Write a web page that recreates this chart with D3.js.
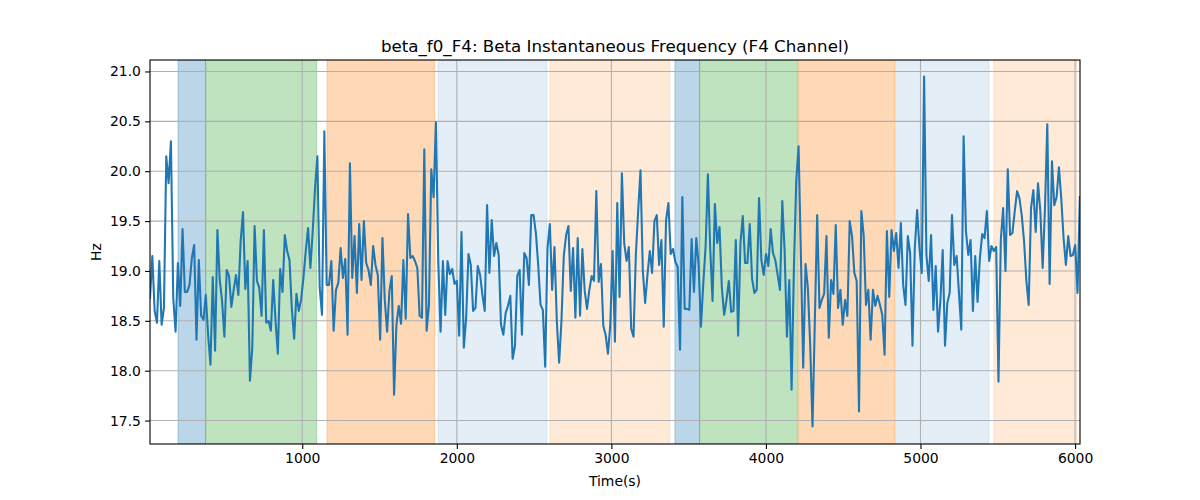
<!DOCTYPE html>
<html>
<head>
<meta charset="utf-8">
<script src="https://cdn.jsdelivr.net/npm/d3@7"></script>
<style>
  body { margin: 0; background: #fff; }
  #graph text { font-family: "DejaVu Sans", sans-serif; }
</style>
</head>
<body>
<div id="graph"></div>
<script>
(function(){
	"use strict";

	// samples: first time stamp and sampling period (s)
	var sampleStart = 15;
	var samplePeriod = 15.04;

	// beta instantaneous frequency (Hz), one value per sample
	var values = [
		18.73,19.15,18.60,18.48,19.10,18.46,18.63,20.15,19.88,20.30,
		18.73,18.39,19.08,18.65,19.42,18.79,18.79,18.86,19.13,19.26,
		18.31,19.11,18.55,18.51,18.76,18.36,18.06,18.94,18.20,19.41,
		18.91,18.70,18.34,19.01,18.95,18.64,18.81,18.96,18.76,19.30,
		19.59,18.82,19.10,17.90,18.23,19.45,18.90,18.83,18.55,19.41,
		18.48,18.50,18.40,18.91,18.50,18.17,19.02,18.79,19.36,19.20,
		19.11,18.63,18.32,18.77,18.60,18.71,18.93,
		19.20,19.43,19.03,19.40,19.83,20.15,18.83,18.56,20.40,18.86,
		18.86,19.10,18.40,18.81,18.88,19.23,18.93,19.12,18.36,20.08,
		18.93,19.35,18.78,19.47,18.91,19.50,19.08,19.01,18.86,19.25,
		19.06,18.96,18.31,19.33,18.71,18.39,18.80,18.95,17.76,18.46,
		18.65,18.47,19.11,18.52,19.57,19.13,19.15,19.10,19.03,18.55,
		18.53,20.22,18.40,18.66,20.02,19.74,20.49,19.10,18.39,19.10,
		18.56,19.10,18.97,19.02,18.87,18.90,
		18.35,19.39,18.23,18.53,19.17,19.06,18.60,18.63,19.05,18.96,
		18.76,18.60,19.66,18.98,19.51,19.15,19.28,19.16,18.46,18.36,
		18.58,18.65,18.75,18.12,18.25,18.95,19.01,18.36,19.18,19.13,
		18.86,19.56,19.56,19.38,19.06,18.66,18.61,18.04,19.23,19.47,
		18.81,19.24,18.50,18.08,18.50,19.15,19.36,19.45,18.80,19.23,
		18.53,19.33,18.55,19.22,18.80,18.62,18.81,18.95,18.90,19.80,
		18.89,19.07,18.45,18.36,18.17,18.46,19.20,
		18.29,19.68,18.74,19.98,19.28,19.10,19.24,18.42,18.34,19.16,
		19.60,20.01,19.00,18.68,18.96,19.20,18.98,19.50,19.56,19.06,
		19.31,18.44,19.51,19.68,19.17,19.22,19.09,19.04,18.21,19.74,
		18.62,18.62,18.61,19.32,18.79,19.33,19.06,18.44,18.87,19.24,
		19.97,19.22,18.70,19.67,19.28,19.44,18.83,18.56,18.71,18.90,
		18.59,18.60,19.31,18.35,19.28,19.55,19.08,19.08,19.47,18.92,
		18.78,18.81,19.73,19.11,18.96,19.17,19.05,
		19.42,19.18,19.11,18.96,18.81,19.70,19.20,18.34,18.91,17.81,
		19.03,19.90,20.25,19.16,18.03,19.07,18.83,18.26,17.44,18.50,
		19.56,18.63,18.71,18.77,19.35,18.33,18.91,18.77,19.46,18.63,
		18.81,18.46,18.71,18.55,19.50,19.35,18.98,18.90,17.59,19.60,
		19.36,18.66,18.81,18.31,18.81,18.65,18.75,18.66,18.56,18.16,
		19.40,18.74,19.41,19.20,19.38,19.03,19.48,18.86,18.66,19.35,
		19.18,18.25,19.23,19.61,19.23,18.98,20.95,
		19.16,18.90,19.36,18.61,19.05,18.39,18.70,19.21,18.25,18.68,
		18.78,19.56,19.06,19.15,18.78,18.41,20.35,19.40,19.16,19.31,
		18.60,19.15,18.69,19.13,19.37,19.33,19.60,19.10,19.25,19.20,
		19.24,17.89,19.31,19.63,19.00,20.02,19.36,19.38,19.60,19.80,
		19.73,19.56,19.30,18.90,18.66,19.63,19.81,19.39,19.88,19.60,
		19.03,19.63,20.47,18.87,20.10,19.66,19.74,20.04,19.73,19.33,
		19.06,19.35,19.15,19.16,19.26,18.78,19.74
	];

	// shaded segments (start, end in seconds) and their kind
	var bandStarts = [196, 375, 1160, 1878, 2602, 3411, 3571, 4212, 4838, 5474];
	var bandEnds   = [375, 1093, 1858, 2583, 3378, 3571, 4206, 4832, 5442, 6011];
	var bandKinds  = ["k0", "k1", "k2", "k3", "k4", "k0", "k1", "k2", "k3", "k4"];

	var xTicks = [1000, 2000, 3000, 4000, 5000, 6000];
	var yTicks = [17.5, 18.0, 18.5, 19.0, 19.5, 20.0, 20.5, 21.0];

	var xDomain = [15, 6032];
	var yDomain = [17.265, 21.115];

	var margin = {top: 60, right: 120, bottom: 56, left: 150};
	var width = 1200 - margin.left - margin.right;
	var height = 500 - margin.top - margin.bottom;

	var svg = d3.select("#graph").append("svg")
		.attr("width", 1200)
		.attr("height", 500);
	var g = svg.append("g").attr("transform", "translate(" + margin.left + "," + margin.top + ")");

	var x = d3.scaleLinear().domain(xDomain).range([0, width]);
	var y = d3.scaleLinear().domain(yDomain).range([height, 0]);

	//band colours: tab10 blue/green/orange with matplotlib-like alpha
	var bandFill = d3.scaleOrdinal()
		.domain(["k0", "k1", "k2", "k3", "k4"])
		.range(["#1f77b4", "#2ca02c", "#ff7f0e", "#1f77b4", "#ff7f0e"]);
	var bandAlpha = d3.scaleOrdinal()
		.domain(["k0", "k1", "k2", "k3", "k4"])
		.range([0.3, 0.3, 0.3, 0.12, 0.16]);

	var bands = bandStarts.map(function(s, i) {
		return {start: s, end: bandEnds[i], kind: bandKinds[i]};
	});

	g.append("defs").append("clipPath").attr("id", "clip")
		.append("rect").attr("width", width).attr("height", height);

	var plot = g.append("g").attr("clip-path", "url(#clip)");

	plot.selectAll(".band")
		.data(bands)
		.enter().append("rect")
		.attr("class", "band")
		.attr("x", function(d) { return x(d.start); })
		.attr("y", 0)
		.attr("width", function(d) { return x(d.end) - x(d.start); })
		.attr("height", height)
		.attr("fill", function(d) { return bandFill(d.kind); })
		.attr("fill-opacity", function(d) { return bandAlpha(d.kind); })
		.attr("stroke", function(d) { return bandFill(d.kind); })
		.attr("stroke-opacity", function(d) { return bandAlpha(d.kind); })
		.attr("stroke-width", 1);

	//grid lines
	plot.selectAll(".vgrid")
		.data(xTicks)
		.enter().append("line")
		.attr("x1", function(d) { return x(d); })
		.attr("x2", function(d) { return x(d); })
		.attr("y1", 0).attr("y2", height)
		.attr("stroke", "#b0b0b0").attr("stroke-width", 1.1);

	plot.selectAll(".hgrid")
		.data(yTicks)
		.enter().append("line")
		.attr("y1", function(d) { return y(d); })
		.attr("y2", function(d) { return y(d); })
		.attr("x1", 0).attr("x2", width)
		.attr("stroke", "#b0b0b0").attr("stroke-width", 1.1);

	var line = d3.line()
		.x(function(d, i) { return x(sampleStart + i * samplePeriod); })
		.y(function(d) { return y(d); });

	plot.append("path")
		.datum(values)
		.attr("fill", "none")
		.attr("stroke", "#1f77b4")
		.attr("stroke-width", 2.08)
		.attr("stroke-linejoin", "round")
		.attr("stroke-linecap", "square")
		.attr("d", line);

	//axes
	var xAxis = g.append("g")
		.attr("transform", "translate(0," + height + ")")
		.call(d3.axisBottom(x).tickValues(xTicks).tickSize(4.9).tickPadding(4.2).tickFormat(d3.format("d")));
	var yAxis = g.append("g")
		.call(d3.axisLeft(y).tickValues(yTicks).tickSize(4.9).tickPadding(4.2).tickFormat(d3.format(".1f")));

	[xAxis, yAxis].forEach(function(a) {
		a.select(".domain").remove();
		a.selectAll(".tick line").attr("stroke", "#000").attr("stroke-width", 1.1);
		a.selectAll(".tick text").attr("fill", "#000").style("font-size", "13.9px");
	});

	//frame
	g.append("rect")
		.attr("width", width).attr("height", height)
		.attr("fill", "none").attr("stroke", "#000").attr("stroke-width", 1.1);

	svg.append("text")
		.attr("x", margin.left + width / 2)
		.attr("y", 52)
		.attr("text-anchor", "middle")
		.style("font-size", "16.7px")
		.text("beta_f0_F4: Beta Instantaneous Frequency (F4 Channel)");

	svg.append("text")
		.attr("x", margin.left + width / 2)
		.attr("y", 486)
		.attr("text-anchor", "middle")
		.style("font-size", "13.9px")
		.text("Time(s)");

	svg.append("text")
		.attr("transform", "translate(101," + (margin.top + height / 2) + ") rotate(-90)")
		.attr("text-anchor", "middle")
		.style("font-size", "13.9px")
		.text("Hz");

})();
</script>
</body>
</html>
